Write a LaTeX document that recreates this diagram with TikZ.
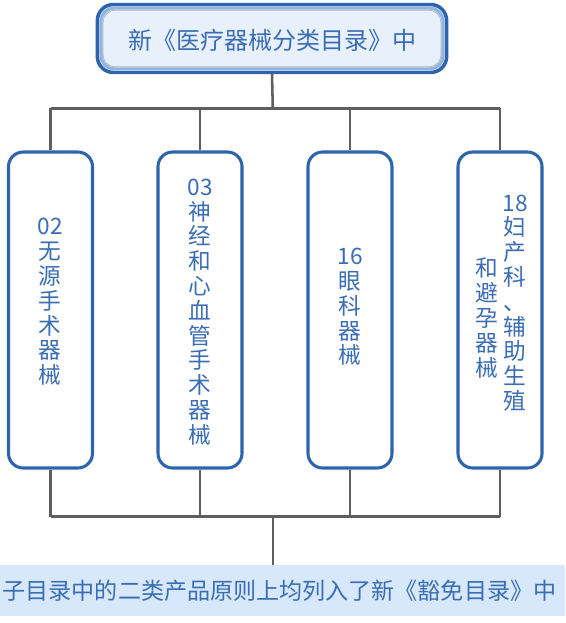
\documentclass[tikz,border=0pt]{standalone}
\usepackage{fontspec}
\newfontfamily\cjk{Noto Sans CJK SC}
\definecolor{txtblue}{HTML}{3A6DB3}
\definecolor{boxblue}{HTML}{2D64AB}
\definecolor{bandblue}{HTML}{8FB6E3}
\definecolor{topfill}{HTML}{E8F1FB}
\definecolor{botfill}{HTML}{D6E8F9}
\definecolor{conn}{HTML}{5E5E5E}
\begin{document}
\begin{tikzpicture}[x=0.75pt,y=-0.75pt,
  catbox/.style={draw=boxblue, line width=2.3pt, rounded corners=11pt, fill=white, minimum width=63pt, minimum height=237pt, inner sep=0pt},
  coltext/.style={text=txtblue, font=\cjk\fontsize{17}{18.6}\selectfont, align=center, inner sep=0pt},
  connector/.style={draw=conn, line width=1.9pt}]
\useasboundingbox (0,0) rectangle (565,623);
\fill[white] (0,0) rectangle (565,623);
% bottom band
\node[fill=botfill, minimum width=423.75pt, minimum height=38pt, inner sep=0pt] (band) at (282.5,590.5) {};
\node[text=txtblue, font=\cjk\fontsize{17.3}{20}\selectfont, inner sep=0pt] (bandtext) at (279.5,591) {子目录中的二类产品原则上均列入了新《豁免目录》中};
% top box
\node[draw=boxblue, line width=2.6pt, rounded corners=12pt, fill=topfill, minimum width=262pt, minimum height=51pt, inner sep=0pt] (top) at (272,38.5) {};
\draw[bandblue, line width=2.4pt, rounded corners=10pt] ([shift={(4pt,-4pt)}]top.north west) rectangle ([shift={(-4pt,4pt)}]top.south east);
\draw[gray!60, line width=0.5pt, rounded corners=9pt] ([shift={(5.6pt,-5.6pt)}]top.north west) rectangle ([shift={(-5.6pt,5.6pt)}]top.south east);
\node[text=txtblue, font=\cjk\fontsize{18}{20}\selectfont, inner sep=0pt] (toptext) at (272,40) {新《医疗器械分类目录》中};
% category boxes
\node[catbox] (b1) at (50.5,310) {};
\node[catbox] (b2) at (200,310) {};
\node[catbox] (b3) at (350,310) {};
\node[catbox] (b4) at (500,310) {};
\node[coltext] (t1) at (50,302) {02\\无\\源\\手\\术\\器\\械};
\node[coltext] (t2) at (200,312) {03\\神\\经\\和\\心\\血\\管\\手\\术\\器\\械};
\node[coltext] (t3) at (350,307) {16\\眼\\科\\器\\械};
\node[coltext] (t4a) at (515,303) {18\\妇\\产\\科\\、\\辅\\助\\生\\殖};
\node[coltext] (t4b) at (487,318) {和\\避\\孕\\器\\械};
% connectors
\coordinate (tb) at (272.8,108.5);
\coordinate (bb) at (272.8,516.5);
\draw[connector] (top.south) -- (tb);
\draw[connector] (b1.north |- tb) -- (b4.north |- tb);
\foreach \b in {b1,b2,b3,b4}{
  \draw[connector] (\b.north |- tb) -- (\b.north);
  \draw[connector] (\b.south) -- (\b.south |- bb);
}
\draw[connector] (b1.south |- bb) -- (b4.south |- bb);
\draw[connector] (bb) -- (band.north -| bb);
\end{tikzpicture}
\end{document}
